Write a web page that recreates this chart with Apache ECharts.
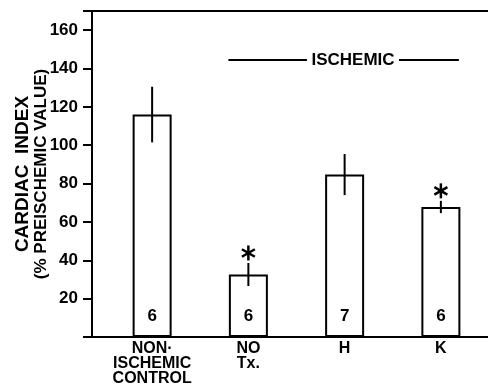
<!DOCTYPE html>
<html lang="en">
<head>
    <meta charset="UTF-8">
    <title>Cardiac index (% preischemic value)</title>
    <script src="https://cdn.jsdelivr.net/npm/echarts@6/dist/echarts.min.js"></script>
    <style>
        html, body, #chart {
            width: 488px;
            height: 391px;
            padding: 0;
            margin: 0;
            background: #fff;
        }
    </style>
</head>
<body>
<div id="chart"></div>
<script>
    // values
    var groups = ["NON·\nISCHEMIC\nCONTROL", "NO\nTx.", "H", "K"];
    var means = [116, 32.6, 84.7, 67.8];
    var errors = [14.5, 6, 10.7, 3.2];
    var counts = [6, 6, 7, 6];
    var starred = [0, 1, 0, 1];
    var yMax = 170;
    var bracketValue = 144.5;

    var font = "Liberation Sans";
    var frameLine = {show: true, lineStyle: {color: "#000", width: 2}};
    var myChart = echarts.init(document.getElementById("chart"));

    myChart.setOption({
        animation: false,
        grid: [{
            left: 92, top: 11, right: 0, bottom: 54, outerBoundsMode: "none"
        }, {
            left: 104, top: 11, width: 385, bottom: 54, outerBoundsMode: "none"
        }],
        xAxis: [{
            gridIndex: 0, type: "value", min: 0, max: 1, position: "bottom",
            axisLine: frameLine, axisTick: {show: false},
            axisLabel: {show: false}, splitLine: {show: false}
        }, {
            gridIndex: 0, type: "value", min: 0, max: 1, position: "top",
            axisLine: frameLine, axisTick: {show: false},
            axisLabel: {show: false}, splitLine: {show: false}
        }, {
            gridIndex: 1, type: "category", data: groups,
            axisLine: {show: false}, axisTick: {show: false},
            axisLabel: {
                interval: 0,
                color: "#000", fontFamily: font, fontWeight: "bold",
                fontSize: 16, lineHeight: 15, margin: 4
            }
        }],
        yAxis: [{
            gridIndex: 0, type: "value", min: 0, max: yMax, interval: 20,
            name: "{a|CARDIAC  INDEX}\n{b|(% PREISCHEMIC VALUE)}",
            nameLocation: "middle", nameGap: 41, nameRotate: 90,
            nameMoveOverlap: false,
            nameTextStyle: {
                color: "#000", fontFamily: font, fontWeight: "bold",
                rich: {
                    a: {fontSize: 19, fontFamily: font, fontWeight: "bold", color: "#000", lineHeight: 19},
                    b: {fontSize: 17, fontFamily: font, fontWeight: "bold", color: "#000", lineHeight: 19}
                }
            },
            axisLine: frameLine,
            axisTick: {show: true, length: 9, lineStyle: {color: "#000", width: 2}},
            axisLabel: {
                color: "#000", fontFamily: font, fontWeight: "bold", fontSize: 17, margin: 14,
                formatter: function (v) { return (v === 0 || v === yMax) ? "" : v; }
            },
            splitLine: {show: false}
        }, {
            gridIndex: 1, type: "value", min: 0, max: yMax, show: false
        }],
        series: [{
            type: "bar",
            xAxisIndex: 2, yAxisIndex: 1,
            data: means,
            barWidth: 39,
            z: 2,
            itemStyle: {color: "#fff", borderColor: "#000", borderWidth: 2},
            label: {
                show: true, position: "insideBottom", distance: 12,
                color: "#000", fontFamily: font, fontWeight: "bold", fontSize: 17,
                formatter: function (p) { return counts[p.dataIndex]; }
            }
        }, {
            type: "custom",
            xAxisIndex: 2, yAxisIndex: 1,
            z: 5,
            data: means.map(function (m, i) { return [i, m, errors[i], starred[i]]; }),
            renderItem: function (params, api) {
                var i = api.value(0), m = api.value(1), e = api.value(2);
                var top = api.coord([i, m + e]);
                var bot = api.coord([i, m - e]);
                var kids = [{
                    type: "line",
                    shape: {x1: top[0], y1: top[1], x2: bot[0], y2: bot[1]},
                    style: {stroke: "#000", lineWidth: 2}
                }];
                if (api.value(3)) {
                    var cx = top[0], cy = top[1] - 10, r = 7.5;
                    [90, 30, 150].forEach(function (deg) {
                        var a = deg * Math.PI / 180;
                        kids.push({
                            type: "line",
                            shape: {
                                x1: cx - r * Math.cos(a), y1: cy - r * Math.sin(a),
                                x2: cx + r * Math.cos(a), y2: cy + r * Math.sin(a)
                            },
                            style: {stroke: "#000", lineWidth: 2.5}
                        });
                    });
                }
                return {type: "group", children: kids};
            }
        }]
    });

    // "ISCHEMIC" bracket over the three treated groups
    var left = myChart.convertToPixel({xAxisIndex: 2}, groups[1]) - 20;
    var right = myChart.convertToPixel({xAxisIndex: 2}, groups[3]) + 20;
    var by = myChart.convertToPixel({yAxisIndex: 1}, bracketValue);
    var tx = 353;
    myChart.setOption({
        graphic: [{
            type: "line", shape: {x1: left, y1: by, x2: tx - 46, y2: by},
            style: {stroke: "#000", lineWidth: 2}
        }, {
            type: "line", shape: {x1: tx + 46, y1: by, x2: right - 2, y2: by},
            style: {stroke: "#000", lineWidth: 2}
        }, {
            type: "text", x: tx, y: by,
            style: {
                text: "ISCHEMIC", fill: "#000", align: "center", verticalAlign: "middle",
                font: "bold 17px 'Liberation Sans'"
            }
        }]
    });
</script>
</body>
</html>
